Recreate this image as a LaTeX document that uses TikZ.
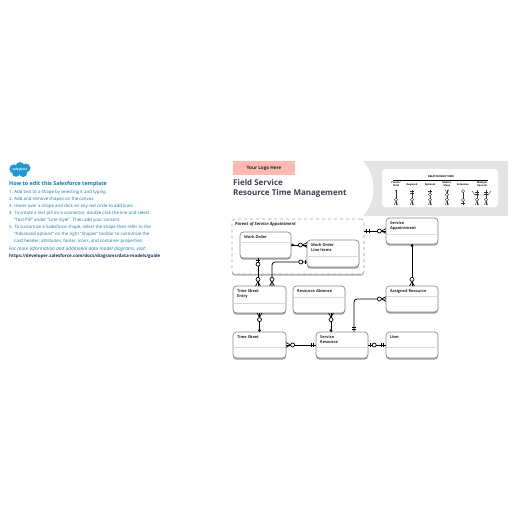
\documentclass[tikz,border=0pt]{standalone}
\usepackage{fontspec}
\setmainfont{Open Sans}
\usepackage{xcolor}
\usetikzlibrary{positioning,arrows.meta,shadows}

\definecolor{navy}{HTML}{16325C}
\definecolor{skyblue}{HTML}{0B78B4}
\definecolor{cloudblue}{HTML}{1B9AD6}
\definecolor{logopink}{HTML}{FFB9AF}
\definecolor{bandgray}{HTML}{E4E4E4}
\definecolor{cardgray}{HTML}{8A8A8A}
\definecolor{titlegray}{HTML}{3A3F55}

% line runs on to the box, the marks sit on top of it
\newcommand{\tipsetup}[1]{\pgfarrowssettipend{0pt}\pgfarrowssetlineend{0pt}\pgfarrowssetbackend{-#1\pgfarrowlength}%
  \pgfarrowssavethe\pgfarrowlength\pgfarrowssavethe\pgfarrowlinewidth}
\pgfdeclarearrow{name=Crow,
  defaults={length=1pt, line width=.7pt},
  parameters={\the\pgfarrowlength,\the\pgfarrowlinewidth},
  setup code={\tipsetup{9}},
  drawing code={
    \pgfsetlinewidth{\pgfarrowlinewidth}
    \pgfpathmoveto{\pgfqpoint{0pt}{2.4\pgfarrowlength}}
    \pgfpathlineto{\pgfqpoint{-4.5\pgfarrowlength}{0pt}}
    \pgfpathlineto{\pgfqpoint{0pt}{-2.4\pgfarrowlength}}
    \pgfusepathqstroke
    \pgfsetfillcolor{white}
    \pgfpathcircle{\pgfqpoint{-6.6\pgfarrowlength}{0pt}}{2\pgfarrowlength}
    \pgfusepathqfillstroke
  }}
\pgfdeclarearrow{name=OneBar,
  defaults={length=1pt, line width=.7pt},
  parameters={\the\pgfarrowlength,\the\pgfarrowlinewidth},
  setup code={\tipsetup{9}},
  drawing code={
    \pgfsetlinewidth{\pgfarrowlinewidth}
    \pgfpathmoveto{\pgfqpoint{-2\pgfarrowlength}{2.4\pgfarrowlength}}
    \pgfpathlineto{\pgfqpoint{-2\pgfarrowlength}{-2.4\pgfarrowlength}}
    \pgfusepathqstroke
    \pgfsetfillcolor{white}
    \pgfpathcircle{\pgfqpoint{-6.2\pgfarrowlength}{0pt}}{2\pgfarrowlength}
    \pgfusepathqfillstroke
  }}
\pgfdeclarearrow{name=TwoBar,
  defaults={length=1pt, line width=.7pt},
  parameters={\the\pgfarrowlength,\the\pgfarrowlinewidth},
  setup code={\tipsetup{6}},
  drawing code={
    \pgfsetlinewidth{\pgfarrowlinewidth}
    \pgfpathmoveto{\pgfqpoint{-2.6\pgfarrowlength}{2.4\pgfarrowlength}}
    \pgfpathlineto{\pgfqpoint{-2.6\pgfarrowlength}{-2.4\pgfarrowlength}}
    \pgfpathmoveto{\pgfqpoint{-5\pgfarrowlength}{2.4\pgfarrowlength}}
    \pgfpathlineto{\pgfqpoint{-5\pgfarrowlength}{-2.4\pgfarrowlength}}
    \pgfusepathqstroke
  }}
\pgfdeclarearrow{name=Dot,
  defaults={length=1pt, line width=.6pt},
  parameters={\the\pgfarrowlength,\the\pgfarrowlinewidth},
  setup code={\tipsetup{3}},
  drawing code={
    \pgfsetlinewidth{\pgfarrowlinewidth}
    \pgfsetfillcolor{white}
    \pgfpathcircle{\pgfqpoint{-1.6\pgfarrowlength}{0pt}}{\pgfarrowlength}
    \pgfusepathqfillstroke
  }}
\pgfdeclarearrow{name=Zero,
  defaults={length=1pt, line width=.7pt},
  parameters={\the\pgfarrowlength,\the\pgfarrowlinewidth},
  setup code={\tipsetup{4}},
  drawing code={
    \pgfsetlinewidth{\pgfarrowlinewidth}
    \pgfsetfillcolor{white}
    \pgfpathcircle{\pgfqpoint{-2\pgfarrowlength}{0pt}}{2\pgfarrowlength}
    \pgfusepathqfillstroke
  }}

\begin{document}
\begin{tikzpicture}[
    x=1pt, y=-1pt,
    card/.style={rectangle, draw=cardgray, line width=.7pt, fill=white, rounded corners=3.5pt,
      minimum width=52pt, minimum height=26pt, inner sep=0pt, outer sep=0pt,
      drop shadow={shadow xshift=0pt, shadow yshift=-1.7pt, fill=black!50, opacity=.75}},
    cardtext/.style={anchor=north west, align=left, inner sep=0pt, xshift=4pt, yshift=-3.5pt,
      text=black!85, font=\fontsize{3.9}{4.9}\selectfont\bfseries},
    rulebar/.style={draw=black!15, line width=.5pt},
    link/.style={line width=.8pt, black},
    legendlink/.style={line width=.35pt, black!80},
    smallcrow/.tip={Crow[scale=.8, line width=.35pt]},
    smallone/.tip={OneBar[scale=.8, line width=.35pt]},
    smalltwo/.tip={TwoBar[scale=.8, line width=.35pt]},
    smallzero/.tip={Zero[scale=.8, line width=.35pt]},
    how/.style={anchor=north west, align=left, inner sep=0pt, text=skyblue,
      font=\fontsize{4.4}{7}\selectfont},
    colhead/.style={align=center, inner sep=0pt, font=\fontsize{2.4}{2.9}\selectfont\bfseries}
]
\useasboundingbox (0,0) rectangle (516,516);

% left column
\fill[cloudblue] (14,169) circle (4.6) (20,166.5) circle (4.4) (26,168) circle (4.4)
  (16,173) circle (3.8) (23,173) circle (4);
\node[inner sep=0pt, text=white, font=\fontsize{3.1}{3.5}\selectfont\bfseries\itshape] (cloud) at (20,170) {salesforce};
\node[how, font=\fontsize{5.4}{7}\selectfont\bfseries] (howhead) at (9,181) {How to edit this Salesforce template};
\node[how, below=3.4pt of howhead.south west, anchor=north west] (howsteps) {1. Add text to a shape by selecting it and typing.\\
2. Add and remove shapes on the canvas.\\
3. Hover over a shape and click on any red circle to add lines.\\
4. To create a text pill on a connector, double click the line and select\\
\hspace{5pt}"Text Pill" under "Line Style". Then add your content.\\
5. To customize a Salesforce shape, select the shape then refer to the\\
\hspace{5pt}"Advanced options" on the right "Shapes" toolbar to customize the\\
\hspace{5pt}card header, attributes, footer, icons, and container properties.};
\node[how, font=\fontsize{4.8}{7}\selectfont\itshape] (howmore) at (9,246.8) {For more information and additional data model diagrams, visit:};
\node[how, below=1.4pt of howmore.south west, anchor=north west, text=navy, font=\fontsize{4.45}{7}\selectfont\bfseries] (howlink) {https://developer.salesforce.com/docs/diagrams/data-models/guide};

% header band
\fill[bandgray] (363,161) .. controls (377,176) and (377,201) .. (363,216) -- (508,216) -- (508,161) -- cycle;
\node[rectangle, fill=logopink, minimum width=62pt, minimum height=14pt, inner sep=0pt, text=black!85,
  font=\fontsize{4.6}{5}\selectfont\bfseries] (logo) at (264,168) {Your Logo Here};
\node[anchor=north west, align=left, inner sep=0pt, text=titlegray, font=\fontsize{8}{9.4}\selectfont\bfseries] (title) at (233,179.5) {Field Service\\Resource Time Management};

% legend
\node[rectangle, fill=white, rounded corners=3pt, minimum width=116pt, minimum height=38pt, inner sep=0pt] (legend) at (440,188) {};
\node[inner sep=0pt, font=\fontsize{2.6}{3}\selectfont\bfseries] (legendhead) at (441,177) {RELATIONSHIP VIEW};
\coordinate (rulea) at (393,180);
\coordinate (ruleb) at (488,180);
\draw[line width=.6pt] (rulea) -- (ruleb);
\node[colhead] (heada) at (396,184.5) {Parent/\\Child};
\node[colhead] (headb) at (412,185) {Required};
\node[colhead] (headc) at (430,185) {Optional};
\node[colhead] (headd) at (447,184.5) {Master-\\Many};
\node[colhead] (heade) at (463,185) {Extension};
\node[colhead] (headf) at (482,184.5) {Multiple\\Records};
\coordinate (aup) at (396,189.5);
\coordinate (adn) at (396,205);
\coordinate (bup) at (412,189.5);
\coordinate (bdn) at (412,205);
\coordinate (cup) at (430,189.5);
\coordinate (cdn) at (430,205);
\coordinate (dup) at (447,189.5);
\coordinate (ddn) at (447,205);
\coordinate (eup) at (463,189.5);
\coordinate (edn) at (463,205);
\coordinate (fup) at (477,190);
\coordinate (fdn) at (477,205);
\coordinate (gup) at (486,190);
\coordinate (gdn) at (486,205);
\coordinate (fleft) at (472,191);
\coordinate (gright) at (491,191);
\coordinate (fmid) at (475,195);
\coordinate (gmid) at (488,195);
\draw[legendlink, {Straight Barb[length=1.4pt,width=2.6pt]}-smallcrow] (aup) -- (adn);
\draw[legendlink, smalltwo-smallcrow] (bup) -- (bdn);
\draw[legendlink, smallone-smallcrow] (cup) -- (cdn);
\draw[legendlink, smallcrow-smallcrow] (dup) -- (ddn);
\draw[legendlink, smallzero-smallone] (eup) -- (edn);
\draw[legendlink, smalltwo-smallcrow] (fup) -- (fdn);
\draw[legendlink, smalltwo-smallcrow] (gup) -- (gdn);
\draw[legendlink] (fleft) -- (fmid) -- (gmid) -- (gright);

% container and cards
\node[rectangle, draw=black!35, dashed, line width=.6pt, fill=white, rounded corners=3pt,
  minimum width=132pt, minimum height=55pt, inner sep=0pt, outer sep=0pt,
  drop shadow={shadow xshift=0pt, shadow yshift=-1.7pt, fill=black!40, opacity=.8},
  label={[cardtext, xshift=-1pt, yshift=.5pt, font=\fontsize{4.2}{4.9}\selectfont\bfseries\itshape]north west:Parent of Service Appointment}] (parent) at (298,246.5) {};

\node[card, minimum width=51pt, label={[cardtext]north west:Work Order}] (order) at (265.5,245) {};
\node[card, minimum height=27pt, label={[cardtext]north west:Work Order\\Line Items}] (items) at (333,253.5) {};
\node[card, minimum height=27pt, minimum width=53pt, label={[cardtext]north west:Time Sheet\\Entry}] (entry) at (259.5,299.5) {};
\node[card, minimum height=27pt, right=7pt of entry, label={[cardtext]north west:Resource Absence}] (absence) {};
\node[card, minimum width=53pt, below=19pt of entry, label={[cardtext]north west:Time Sheet}] (sheet) {};
\node[card, right=30pt of sheet, label={[cardtext]north west:Service\\Resource}] (resource) {};
\node[card, right=18pt of resource, label={[cardtext]north west:User}] (user) {};
\node[card, above=20pt of user, label={[cardtext]north west:Assigned Resource}] (assigned) {};
\node[card, above=42pt of assigned, label={[cardtext]north west:Service\\Appointment}] (appt) {};

\draw[rulebar] ([yshift=-10pt]order.north west) -- ([yshift=-10pt]order.north east);
\draw[rulebar] ([yshift=-16pt]items.north west) -- ([yshift=-16pt]items.north east);
\draw[rulebar] ([yshift=-17pt]entry.north west) -- ([yshift=-17pt]entry.north east);
\draw[rulebar] ([yshift=-11pt]absence.north west) -- ([yshift=-11pt]absence.north east);
\draw[rulebar] ([yshift=-15pt]sheet.north west) -- ([yshift=-15pt]sheet.north east);
\draw[rulebar] ([yshift=-15pt]resource.north west) -- ([yshift=-15pt]resource.north east);
\draw[rulebar] ([yshift=-15pt]user.north west) -- ([yshift=-15pt]user.north east);
\draw[rulebar] ([yshift=-10pt]assigned.north west) -- ([yshift=-10pt]assigned.north east);
\draw[rulebar] ([yshift=-16pt]appt.north west) -- ([yshift=-16pt]appt.north east);

% connectors
\draw[link, Dot-Crow] (order.east) -- (order.east -| items.west);
\draw[link, OneBar-Crow] ([xshift=-7.5pt]order.south) -- ([xshift=-1.5pt]entry.north);
\draw[link, OneBar-Crow, rounded corners=3pt] ([yshift=-8.5pt]items.west) -| ([xshift=12.5pt]entry.north);
\draw[link, TwoBar-Crow] (parent.east |- appt.west) -- (appt.west);
\draw[link, Dot-Crow] (appt.south) -- (assigned.north);
\draw[link, TwoBar-Crow, rounded corners=3pt] ([xshift=12pt]resource.north) |- (assigned.west);
\draw[link, Crow-Dot] ([xshift=12pt]absence.south) -- ([xshift=-11pt]resource.north);
\draw[link, Crow-Dot] (entry.south) -- (sheet.north);
\draw[link, Crow-TwoBar] (sheet.east) -- (sheet.east -| resource.west);
\draw[link, OneBar-TwoBar] (resource.east) -- (user.west);
\end{tikzpicture}
\end{document}
